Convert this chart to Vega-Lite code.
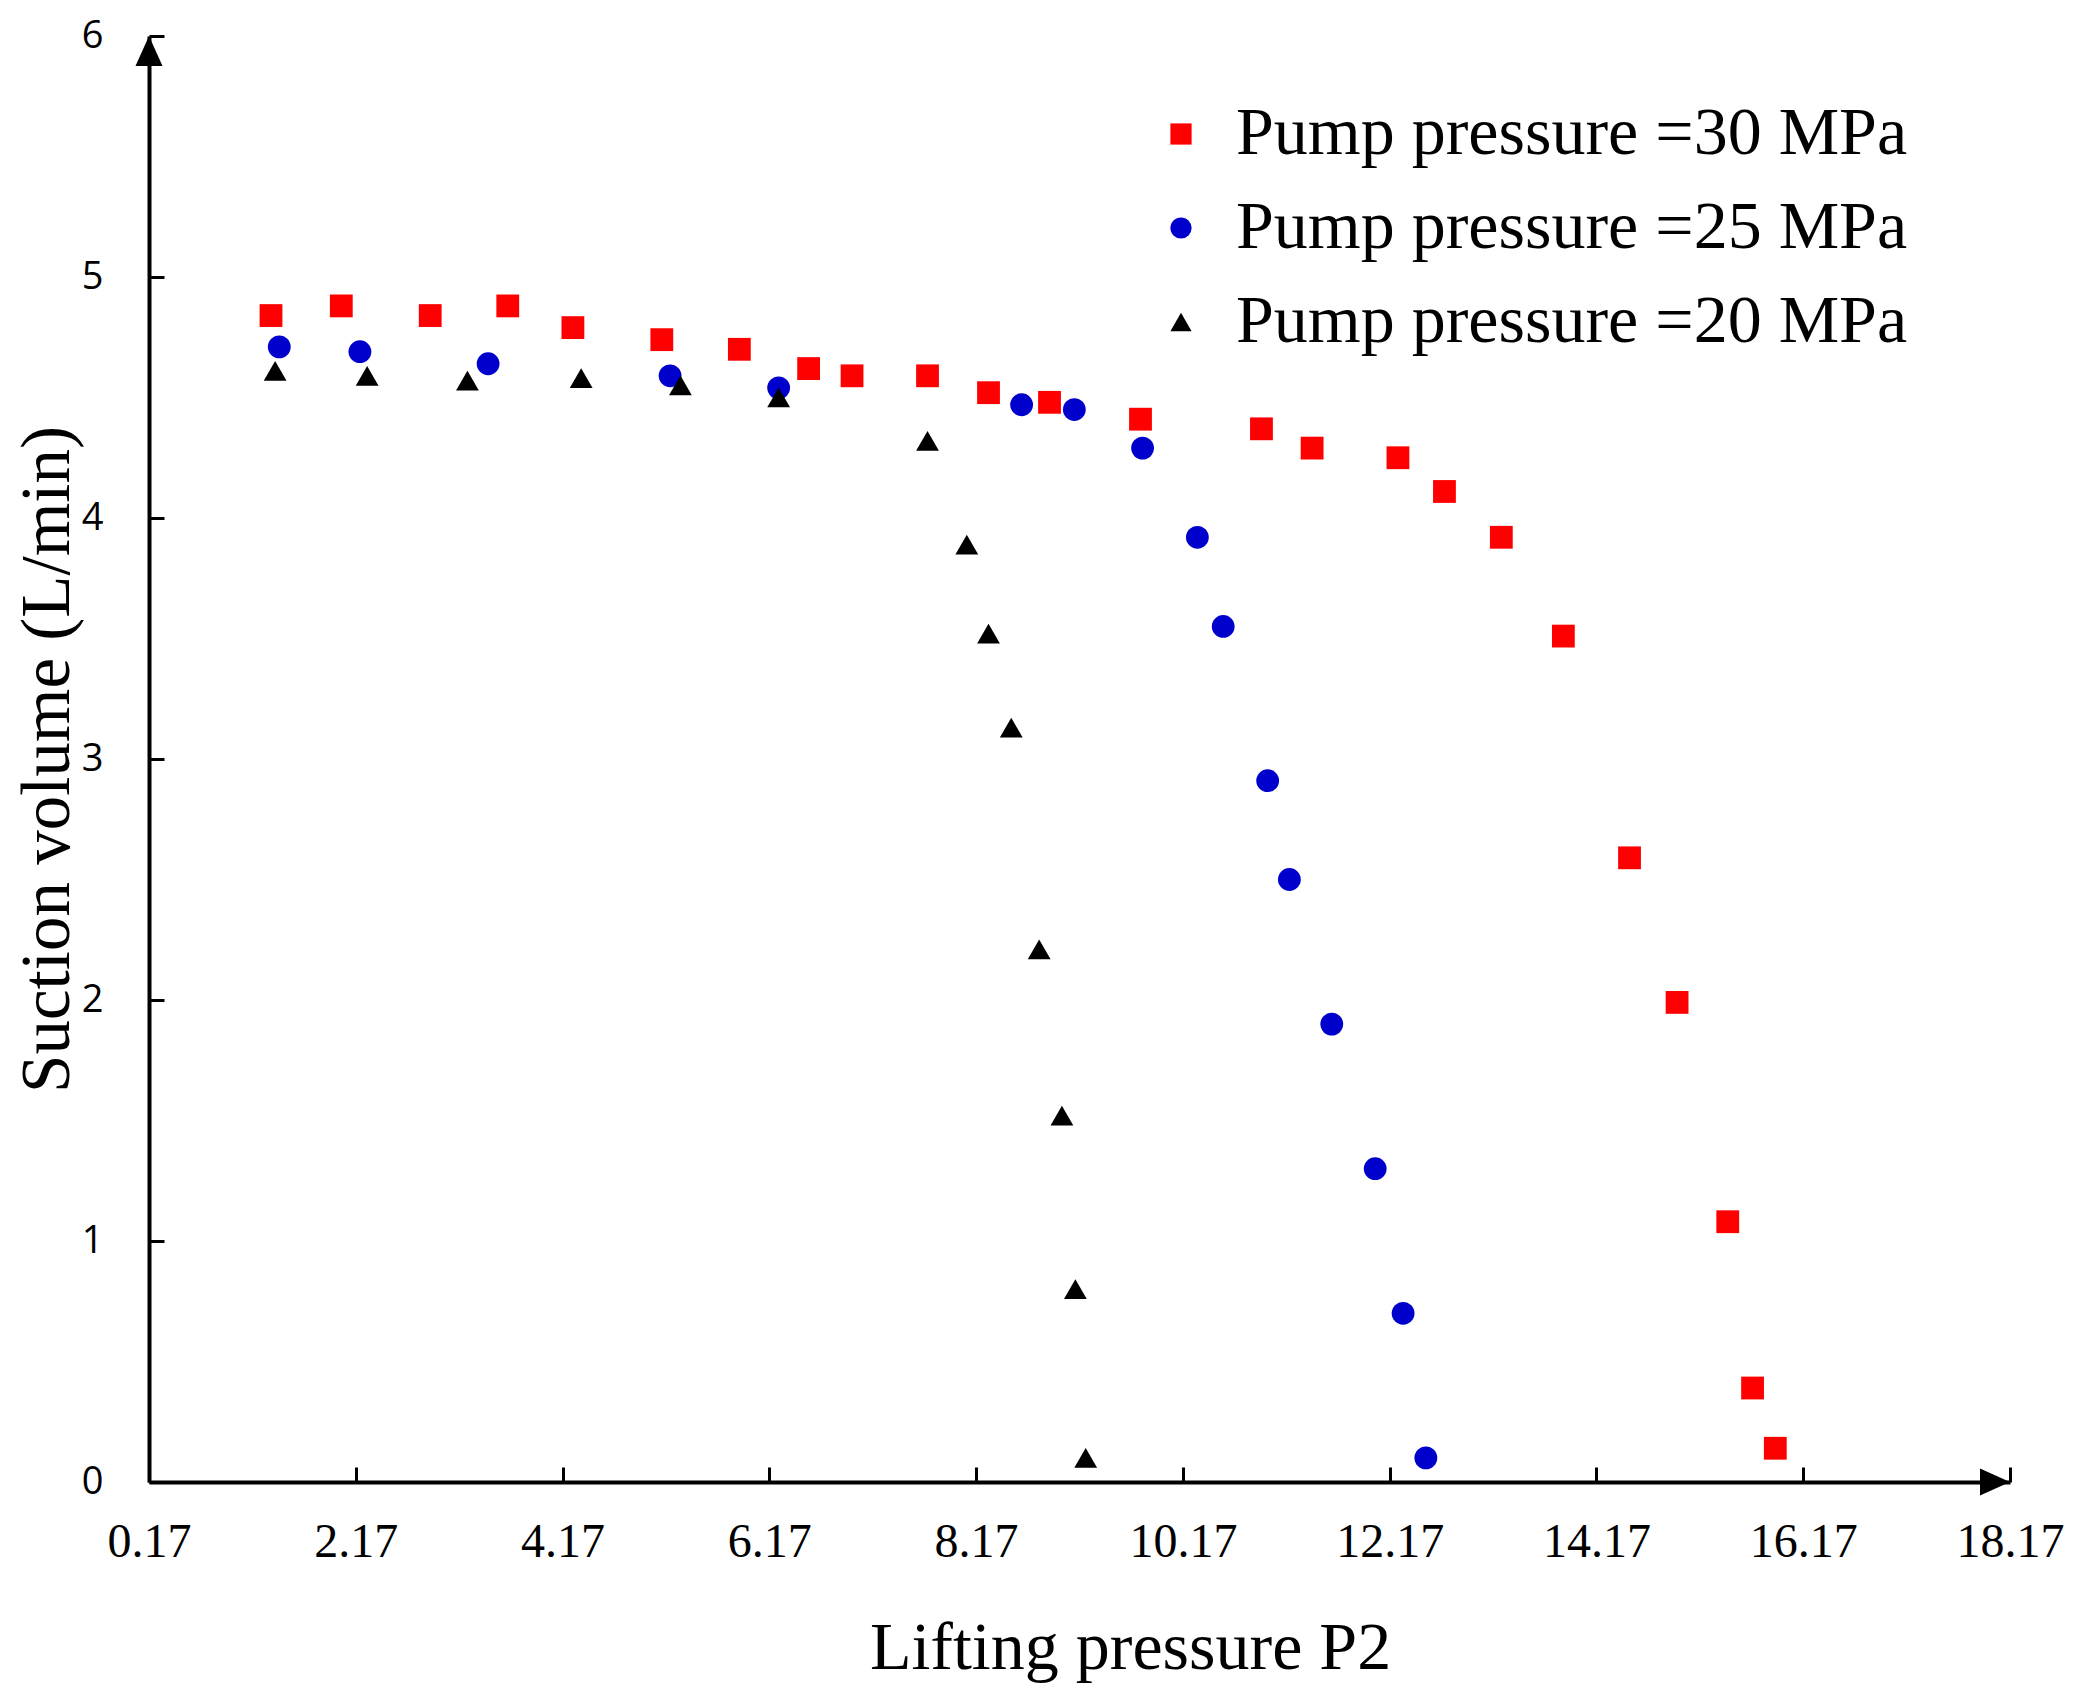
{
  "$schema": "https://vega.github.io/schema/vega-lite/v6.json",
  "width": 1861,
  "height": 1446,
  "autosize": {"type": "none"},
  "padding": {"left": 149, "top": 36, "right": 74, "bottom": 209},
  "config": {"view": {"stroke": null}, "font": "Liberation Serif"},
  "layer": [
    {
      "data": {
        "values": [
          {"p": 1.35, "q": 4.84, "s": "Pump pressure =30 MPa"},
          {"p": 2.03, "q": 4.88, "s": "Pump pressure =30 MPa"},
          {"p": 2.89, "q": 4.84, "s": "Pump pressure =30 MPa"},
          {"p": 3.64, "q": 4.88, "s": "Pump pressure =30 MPa"},
          {"p": 4.27, "q": 4.79, "s": "Pump pressure =30 MPa"},
          {"p": 5.13, "q": 4.74, "s": "Pump pressure =30 MPa"},
          {"p": 5.88, "q": 4.70, "s": "Pump pressure =30 MPa"},
          {"p": 6.55, "q": 4.62, "s": "Pump pressure =30 MPa"},
          {"p": 6.97, "q": 4.59, "s": "Pump pressure =30 MPa"},
          {"p": 7.70, "q": 4.59, "s": "Pump pressure =30 MPa"},
          {"p": 8.29, "q": 4.52, "s": "Pump pressure =30 MPa"},
          {"p": 8.88, "q": 4.48, "s": "Pump pressure =30 MPa"},
          {"p": 9.76, "q": 4.41, "s": "Pump pressure =30 MPa"},
          {"p": 10.93, "q": 4.37, "s": "Pump pressure =30 MPa"},
          {"p": 11.42, "q": 4.29, "s": "Pump pressure =30 MPa"},
          {"p": 12.25, "q": 4.25, "s": "Pump pressure =30 MPa"},
          {"p": 12.70, "q": 4.11, "s": "Pump pressure =30 MPa"},
          {"p": 13.25, "q": 3.92, "s": "Pump pressure =30 MPa"},
          {"p": 13.85, "q": 3.51, "s": "Pump pressure =30 MPa"},
          {"p": 14.49, "q": 2.59, "s": "Pump pressure =30 MPa"},
          {"p": 14.95, "q": 1.99, "s": "Pump pressure =30 MPa"},
          {"p": 15.44, "q": 1.08, "s": "Pump pressure =30 MPa"},
          {"p": 15.68, "q": 0.39, "s": "Pump pressure =30 MPa"},
          {"p": 15.90, "q": 0.14, "s": "Pump pressure =30 MPa"},
          {"p": 1.43, "q": 4.71, "s": "Pump pressure =25 MPa"},
          {"p": 2.21, "q": 4.69, "s": "Pump pressure =25 MPa"},
          {"p": 3.45, "q": 4.64, "s": "Pump pressure =25 MPa"},
          {"p": 5.21, "q": 4.59, "s": "Pump pressure =25 MPa"},
          {"p": 6.26, "q": 4.54, "s": "Pump pressure =25 MPa"},
          {"p": 8.61, "q": 4.47, "s": "Pump pressure =25 MPa"},
          {"p": 9.12, "q": 4.45, "s": "Pump pressure =25 MPa"},
          {"p": 9.78, "q": 4.29, "s": "Pump pressure =25 MPa"},
          {"p": 10.31, "q": 3.92, "s": "Pump pressure =25 MPa"},
          {"p": 10.56, "q": 3.55, "s": "Pump pressure =25 MPa"},
          {"p": 10.99, "q": 2.91, "s": "Pump pressure =25 MPa"},
          {"p": 11.20, "q": 2.50, "s": "Pump pressure =25 MPa"},
          {"p": 11.61, "q": 1.90, "s": "Pump pressure =25 MPa"},
          {"p": 12.03, "q": 1.30, "s": "Pump pressure =25 MPa"},
          {"p": 12.30, "q": 0.70, "s": "Pump pressure =25 MPa"},
          {"p": 12.52, "q": 0.10, "s": "Pump pressure =25 MPa"},
          {"p": 1.39, "q": 4.61, "s": "Pump pressure =20 MPa"},
          {"p": 2.28, "q": 4.59, "s": "Pump pressure =20 MPa"},
          {"p": 3.25, "q": 4.57, "s": "Pump pressure =20 MPa"},
          {"p": 4.35, "q": 4.58, "s": "Pump pressure =20 MPa"},
          {"p": 5.31, "q": 4.55, "s": "Pump pressure =20 MPa"},
          {"p": 6.26, "q": 4.50, "s": "Pump pressure =20 MPa"},
          {"p": 7.70, "q": 4.32, "s": "Pump pressure =20 MPa"},
          {"p": 8.08, "q": 3.89, "s": "Pump pressure =20 MPa"},
          {"p": 8.29, "q": 3.52, "s": "Pump pressure =20 MPa"},
          {"p": 8.51, "q": 3.13, "s": "Pump pressure =20 MPa"},
          {"p": 8.78, "q": 2.21, "s": "Pump pressure =20 MPa"},
          {"p": 9.00, "q": 1.52, "s": "Pump pressure =20 MPa"},
          {"p": 9.13, "q": 0.80, "s": "Pump pressure =20 MPa"},
          {"p": 9.23, "q": 0.10, "s": "Pump pressure =20 MPa"}
        ]
      },
      "mark": {"type": "point", "filled": true, "opacity": 1, "size": 520},
      "encoding": {
        "x": {
          "field": "p",
          "type": "quantitative",
          "scale": {"domain": [0.17, 18.17], "nice": false, "zero": false},
          "axis": {
            "title": "Lifting pressure P2",
            "values": [0.17, 2.17, 4.17, 6.17, 8.17, 10.17, 12.17, 14.17, 16.17, 18.17],
            "format": ".2f",
            "grid": false,
            "domainColor": "black",
            "domainWidth": 4,
            "tickColor": "black",
            "tickWidth": 3,
            "tickSize": -15,
            "labelFont": "Liberation Serif",
            "labelFontSize": 48,
            "labelColor": "black",
            "labelBaseline": "middle",
            "labelPadding": 75,
            "labelFlush": false,
            "labelOverlap": false,
            "titleFont": "Liberation Serif",
            "titleFontSize": 68,
            "titleFontWeight": "normal",
            "titleColor": "black",
            "titleX": 981,
            "titleY": 166,
            "titleBaseline": "middle",
            "titleAlign": "center"
          }
        },
        "y": {
          "field": "q",
          "type": "quantitative",
          "scale": {"domain": [0, 6], "nice": false},
          "axis": {
            "title": "Suction volume (L/min)",
            "values": [0, 1, 2, 3, 4, 5, 6],
            "format": "d",
            "grid": false,
            "domainColor": "black",
            "domainWidth": 4,
            "tickColor": "black",
            "tickWidth": 3,
            "tickSize": -15,
            "labelFont": "Open Sans",
            "labelFontSize": 38,
            "labelColor": "black",
            "labelPadding": 61,
            "labelFlush": false,
            "labelOverlap": false,
            "titleFont": "Liberation Serif",
            "titleFontSize": 69,
            "titleFontWeight": "normal",
            "titleColor": "black",
            "titleX": -102,
            "titleY": 723,
            "titleAngle": -90,
            "titleBaseline": "middle",
            "titleAlign": "center"
          }
        },
        "color": {
          "field": "s",
          "type": "nominal",
          "scale": {
            "domain": ["Pump pressure =30 MPa", "Pump pressure =25 MPa", "Pump pressure =20 MPa"],
            "range": ["#ff0000", "#0000cc", "#000000"]
          },
          "legend": {
            "orient": "none",
            "legendX": 998,
            "legendY": 64,
            "title": null,
            "padding": 0,
            "labelFont": "Liberation Serif",
            "labelFontSize": 68,
            "labelColor": "black",
            "labelOffset": 21,
            "labelLimit": 1000,
            "rowPadding": 26,
            "symbolSize": 450
          }
        },
        "shape": {
          "field": "s",
          "type": "nominal",
          "scale": {
            "domain": ["Pump pressure =30 MPa", "Pump pressure =25 MPa", "Pump pressure =20 MPa"],
            "range": ["square", "circle", "triangle-up"]
          }
        }
      }
    },
    {
      "data": {"values": [{"p": 18.17, "q": 0}]},
      "mark": {"type": "point", "filled": true, "opacity": 1, "color": "black", "size": 900, "shape": "M0,0L-2,-0.9L-2,0.9Z"},
      "encoding": {
        "x": {"field": "p", "type": "quantitative"},
        "y": {"field": "q", "type": "quantitative"}
      }
    },
    {
      "data": {"values": [{"p": 0.17, "q": 6}]},
      "mark": {"type": "point", "filled": true, "opacity": 1, "color": "black", "size": 900, "shape": "M0,0L-0.9,2L0.9,2Z"},
      "encoding": {
        "x": {"field": "p", "type": "quantitative"},
        "y": {"field": "q", "type": "quantitative"}
      }
    }
  ]
}
